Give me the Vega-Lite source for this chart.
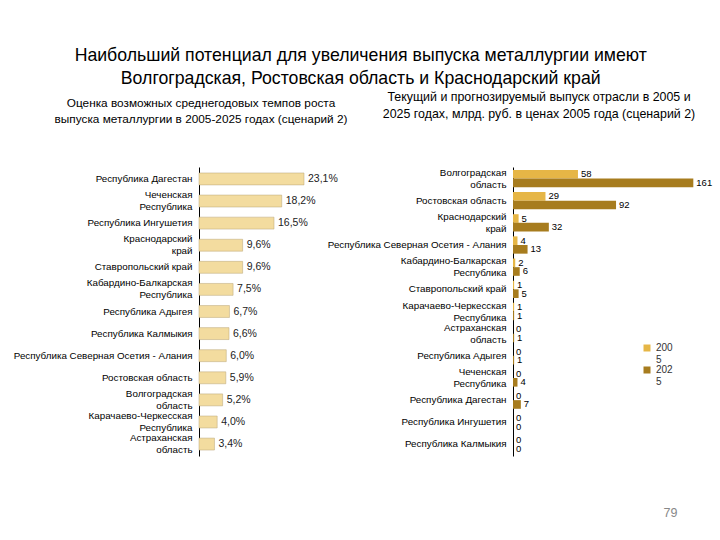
{
  "$schema": "https://vega.github.io/schema/vega-lite/v6.json",
  "padding": {"left": 13, "top": 46, "right": 5, "bottom": 5},
  "background": "white",
  "title": {
    "text": ["Наибольший потенциал для увеличения выпуска металлургии имеют", "Волгоградская, Ростовская область и Краснодарский край"],
    "fontSize": 17.7,
    "fontWeight": "normal",
    "font": "Liberation Sans",
    "lineHeight": 23,
    "color": "black",
    "anchor": "middle",
    "offset": 3,
    "dx": -2
  },
  "datasets": {
    "growth": [
      {"region": "Республика Дагестан", "rate": 0.231},
      {"region": "Чеченская Республика", "rate": 0.182},
      {"region": "Республика Ингушетия", "rate": 0.165},
      {"region": "Краснодарский край", "rate": 0.096},
      {"region": "Ставропольский край", "rate": 0.096},
      {"region": "Кабардино-Балкарская Республика", "rate": 0.075},
      {"region": "Республика Адыгея", "rate": 0.067},
      {"region": "Республика Калмыкия", "rate": 0.066},
      {"region": "Республика Северная Осетия - Алания", "rate": 0.060},
      {"region": "Ростовская область", "rate": 0.059},
      {"region": "Волгоградская область", "rate": 0.052},
      {"region": "Карачаево-Черкесская Республика", "rate": 0.040},
      {"region": "Астраханская область", "rate": 0.034}
    ],
    "output": [
      {"region": "Волгоградская область", "year": "2005", "value": 58},
      {"region": "Волгоградская область", "year": "2025", "value": 161},
      {"region": "Ростовская область", "year": "2005", "value": 29},
      {"region": "Ростовская область", "year": "2025", "value": 92},
      {"region": "Краснодарский край", "year": "2005", "value": 5},
      {"region": "Краснодарский край", "year": "2025", "value": 32},
      {"region": "Республика Северная Осетия - Алания", "year": "2005", "value": 4},
      {"region": "Республика Северная Осетия - Алания", "year": "2025", "value": 13},
      {"region": "Кабардино-Балкарская Республика", "year": "2005", "value": 2},
      {"region": "Кабардино-Балкарская Республика", "year": "2025", "value": 6},
      {"region": "Ставропольский край", "year": "2005", "value": 1},
      {"region": "Ставропольский край", "year": "2025", "value": 5},
      {"region": "Карачаево-Черкесская Республика", "year": "2005", "value": 1},
      {"region": "Карачаево-Черкесская Республика", "year": "2025", "value": 1},
      {"region": "Астраханская область", "year": "2005", "value": 0},
      {"region": "Астраханская область", "year": "2025", "value": 1},
      {"region": "Республика Адыгея", "year": "2005", "value": 0},
      {"region": "Республика Адыгея", "year": "2025", "value": 1},
      {"region": "Чеченская Республика", "year": "2005", "value": 0},
      {"region": "Чеченская Республика", "year": "2025", "value": 4},
      {"region": "Республика Дагестан", "year": "2005", "value": 0},
      {"region": "Республика Дагестан", "year": "2025", "value": 7},
      {"region": "Республика Ингушетия", "year": "2005", "value": 0},
      {"region": "Республика Ингушетия", "year": "2025", "value": 0},
      {"region": "Республика Калмыкия", "year": "2005", "value": 0},
      {"region": "Республика Калмыкия", "year": "2025", "value": 0}
    ]
  },
  "bounds": "flush",
  "spacing": 164,
  "hconcat": [
    {
      "width": 150,
      "height": 289,
      "title": {
        "text": ["Оценка возможных среднегодовых темпов роста", "выпуска металлургии в 2005-2025 годах (сценарий 2)"],
        "fontSize": 11.8,
        "fontWeight": "normal",
        "lineHeight": 16,
        "color": "black",
        "anchor": "middle",
        "frame": "group",
        "offset": 41,
        "dx": -73
      },
      "data": {"name": "growth"},
      "encoding": {
        "y": {
          "field": "region",
          "type": "nominal",
          "sort": null,
          "scale": {"paddingInner": 0.46, "paddingOuter": 0.27},
          "axis": {
            "title": null,
            "labelOffset": {"condition": {"test": "indexof(['Чеченская Республика','Краснодарский край','Кабардино-Балкарская Республика','Волгоградская область','Карачаево-Черкесская Республика','Астраханская область'], datum.value) >= 0", "value": -6}, "value": 0},
            "labelExpr": "indexof(['Чеченская Республика','Краснодарский край','Кабардино-Балкарская Республика','Волгоградская область','Карачаево-Черкесская Республика','Астраханская область'], datum.value) >= 0 ? split(datum.value, ' ') : datum.value"
          }
        },
        "x": {
          "field": "rate",
          "type": "quantitative",
          "scale": {"domain": [0, 0.33], "nice": false},
          "axis": null
        }
      },
      "layer": [
        {"mark": {"type": "bar", "color": "#F3DC9F", "stroke": "#b8a577", "strokeWidth": 0.5}},
        {
          "mark": {"type": "text", "align": "left", "baseline": "middle", "dx": 4, "fontSize": 10.5, "color": "#222"},
          "encoding": {"text": {"field": "rate", "type": "quantitative", "format": ".1%"}}
        }
      ]
    },
    {
      "width": 196,
      "height": 289,
      "title": {
        "text": ["Текущий и прогнозируемый выпуск отрасли в 2005 и", "2025 годах, млрд. руб. в ценах 2005 года (сценарий 2)"],
        "fontSize": 12.4,
        "fontWeight": "normal",
        "lineHeight": 17,
        "color": "black",
        "anchor": "middle",
        "frame": "group",
        "offset": 47,
        "dx": -72
      },
      "data": {"name": "output"},
      "encoding": {
        "y": {
          "field": "region",
          "type": "nominal",
          "sort": null,
          "scale": {"paddingInner": 0.22, "paddingOuter": 0.13},
          "axis": {
            "title": null,
            "labelOffset": {"condition": {"test": "indexof(['Чеченская Республика','Краснодарский край','Кабардино-Балкарская Республика','Волгоградская область','Карачаево-Черкесская Республика','Астраханская область'], datum.value) >= 0", "value": -6}, "value": 0},
            "labelExpr": "indexof(['Чеченская Республика','Краснодарский край','Кабардино-Балкарская Республика','Волгоградская область','Карачаево-Черкесская Республика','Астраханская область'], datum.value) >= 0 ? split(datum.value, ' ') : datum.value"
          }
        },
        "yOffset": {"field": "year", "type": "nominal", "sort": ["2005", "2025"]},
        "x": {
          "field": "value",
          "type": "quantitative",
          "scale": {"domain": [0, 175], "nice": false},
          "axis": {
            "domain": false,
            "labels": false,
            "ticks": false,
            "grid": false,
            "title": "79",
            "titleAnchor": "start",
            "titleAlign": "right",
            "titleX": 164,
            "titleBaseline": "top",
            "titlePadding": 50,
            "titleColor": "#888888",
            "titleFontWeight": "normal",
            "titleFontSize": 12.5
          }
        }
      },
      "layer": [
        {
          "mark": {"type": "bar"},
          "encoding": {
            "color": {
              "field": "year",
              "type": "nominal",
              "scale": {"domain": ["2005", "2025"], "range": ["#E6B646", "#A77C1E"]},
              "legend": {
                "title": null,
                "orient": "none",
                "legendX": 443,
                "legendY": 176,
                "symbolType": "square",
                "symbolSize": 49,
                "symbolStrokeWidth": 0,
                "labelFontSize": 10,
                "labelColor": "#333",
                "labelLineHeight": 12,
                "rowPadding": 0,
                "labelExpr": "[slice(datum.label, 0, 3), slice(datum.label, 3)]"
              }
            }
          }
        },
        {
          "mark": {"type": "text", "align": "left", "baseline": "middle", "dx": 3, "fontSize": 9.5, "color": "black"},
          "encoding": {"text": {"field": "value", "type": "quantitative"}}
        }
      ]
    }
  ],
  "config": {
    "font": "Liberation Sans",
    "view": {"stroke": null},
    "locale": {
      "number": {"decimal": ",", "thousands": "\u00a0", "grouping": [3], "currency": ["", " ₽"]}
    },
    "axisY": {
      "domain": true,
      "domainColor": "black",
      "domainWidth": 1,
      "ticks": false,
      "grid": false,
      "labelFontSize": 9.8,
      "labelColor": "black",
      "labelPadding": 7,
      "labelLimit": 0,
      "labelLineHeight": 12
    }
  }
}
